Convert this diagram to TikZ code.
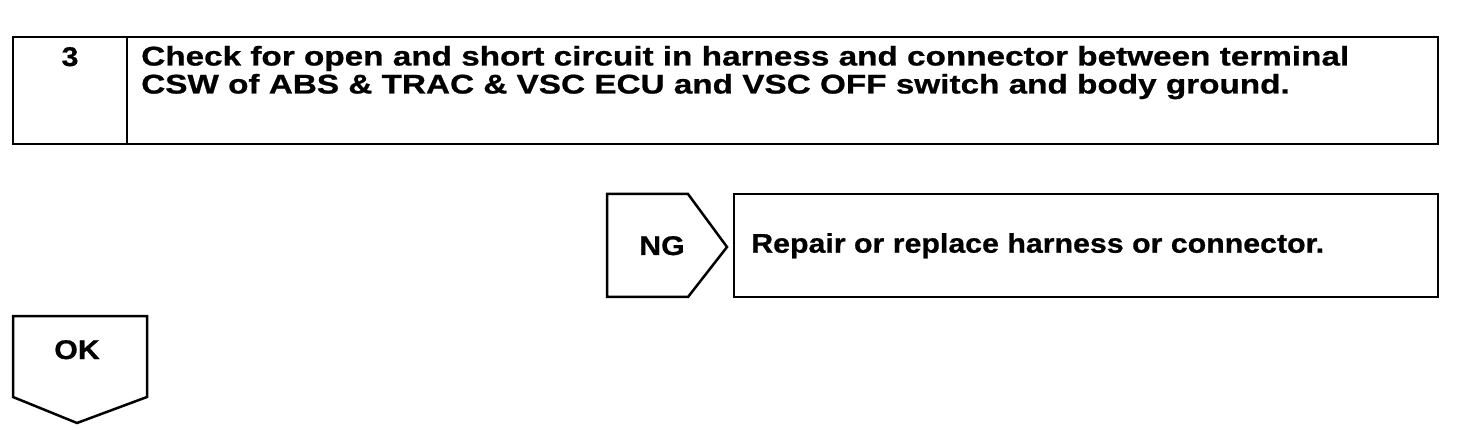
\documentclass[tikz,border=0pt]{standalone}
\usepackage{fontspec}
\newfontfamily\mainheavy[FakeStretch=1.233,RawFeature={embolden=0.8}]{Liberation Sans Bold}
\newfontfamily\narrowheavy[FakeStretch=1.123,RawFeature={embolden=0.8}]{Liberation Sans Bold}
\begin{document}
\begin{tikzpicture}[x=1pt,y=-1pt,line width=2.5pt,line join=miter,
  txt/.style={inner sep=0pt,font=\mainheavy\fontsize{27}{28}\selectfont},
  ntxt/.style={inner sep=0pt,font=\narrowheavy\fontsize{27}{28}\selectfont}]
			%%%%% START %%%%%
			
			\useasboundingbox (0,0) rectangle (1472,430);
			
			% step box
			\draw (13,37) rectangle (1438,144);
			\draw (127,37) -- (127,144);
			\node[ntxt,anchor=base] (num) at (70,66) {3};
			\node[txt,anchor=base west,align=left] (check) at (140,93.5)
				{Check for open and short circuit in harness and connector between terminal\\
				 CSW of ABS \& TRAC \& VSC ECU and VSC OFF switch and body ground.};
			
			% NG arrow and repair box
			\draw (607,194) -- (688,194) -- (727,247) -- (688,297) -- (607,297) -- cycle;
			\node[ntxt,anchor=base] (ng) at (662,255) {NG};
			\draw (734,194) rectangle (1438,297);
			\node[ntxt,anchor=base west] (repair) at (750,252.7) {Repair or replace harness or connector.};
			
			% OK arrow
			\draw (13,316) -- (147,316) -- (147,397) -- (77,423) -- (13,397) -- cycle;
			\node[ntxt,anchor=base] (ok) at (77,359) {OK};
			
			%%%%% END %%%%%
\end{tikzpicture}
\end{document}
